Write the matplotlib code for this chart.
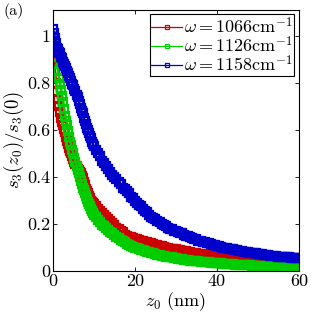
import numpy as np
import matplotlib
matplotlib.use("Agg")
import matplotlib.pyplot as plt

plt.rcParams['font.family'] = 'serif'
plt.rcParams['font.serif'] = ['cmr10', 'DejaVu Serif']
plt.rcParams['mathtext.fontset'] = 'cm'
plt.rcParams['axes.formatter.use_mathtext'] = True

# sampling positions z0 (nm)
z0 = np.concatenate([np.arange(0, 10.001, 0.25), np.arange(10.5, 60.001, 0.5)])

s_1066 = [
    0.95, 0.90, 0.85, 0.80, 0.76, 0.73, 0.70, 0.675, 0.65, 0.635,
    0.62, 0.605, 0.59, 0.57, 0.555, 0.54, 0.525, 0.51, 0.50, 0.49,
    0.475, 0.465, 0.455, 0.445, 0.435, 0.43, 0.42, 0.415, 0.405, 0.395,
    0.38, 0.365, 0.35, 0.34, 0.33, 0.32, 0.31, 0.30, 0.295, 0.29,
    0.285,
    0.275, 0.265, 0.255, 0.245, 0.24, 0.23, 0.22, 0.215, 0.205, 0.195,
    0.185, 0.18, 0.17, 0.165, 0.155, 0.15, 0.147, 0.143, 0.14, 0.138,
    0.135, 0.132, 0.13, 0.128, 0.125, 0.122, 0.12, 0.118, 0.115, 0.112,
    0.11, 0.108, 0.105, 0.103, 0.10, 0.098, 0.096, 0.095, 0.093, 0.092,
    0.09, 0.089, 0.087, 0.086, 0.084, 0.082, 0.08, 0.079, 0.077, 0.075,
    0.074, 0.072, 0.071, 0.07, 0.068, 0.067, 0.066, 0.064, 0.063, 0.062,
    0.061, 0.06, 0.059, 0.058, 0.057, 0.056, 0.055, 0.055, 0.054, 0.053,
    0.052, 0.051, 0.05, 0.049, 0.048, 0.047, 0.047, 0.046, 0.045, 0.045,
    0.044, 0.043, 0.043, 0.042, 0.041, 0.041, 0.04, 0.04, 0.039, 0.039,
    0.038, 0.038, 0.037, 0.037, 0.036, 0.036, 0.035, 0.035, 0.034, 0.034,
]

s_1126 = [
    1.0, 0.97, 0.95, 0.91, 0.88, 0.85, 0.82, 0.795, 0.77, 0.745,
    0.72, 0.69, 0.66, 0.64, 0.62, 0.595, 0.57, 0.55, 0.535, 0.515,
    0.50, 0.48, 0.465, 0.445, 0.43, 0.415, 0.40, 0.385, 0.37, 0.355,
    0.345, 0.33, 0.32, 0.305, 0.295, 0.285, 0.275, 0.265, 0.255, 0.245,
    0.24,
    0.228, 0.217, 0.208, 0.198, 0.19, 0.182, 0.175, 0.168, 0.16, 0.153,
    0.146, 0.14, 0.134, 0.128, 0.122, 0.117, 0.112, 0.108, 0.104, 0.10,
    0.097, 0.094, 0.091, 0.088, 0.085, 0.082, 0.08, 0.077, 0.075, 0.072,
    0.07, 0.068, 0.066, 0.064, 0.062, 0.061, 0.059, 0.058, 0.056, 0.055,
    0.053, 0.052, 0.05, 0.049, 0.048, 0.046, 0.045, 0.044, 0.043, 0.042,
    0.041, 0.04, 0.039, 0.038, 0.038, 0.037, 0.036, 0.035, 0.035, 0.034,
    0.033, 0.033, 0.032, 0.031, 0.031, 0.03, 0.03, 0.029, 0.028, 0.028,
    0.027, 0.027, 0.026, 0.026, 0.025, 0.025, 0.024, 0.024, 0.023, 0.023,
    0.022, 0.022, 0.021, 0.021, 0.02, 0.02, 0.02, 0.019, 0.019, 0.018,
    0.018, 0.018, 0.017, 0.017, 0.017, 0.016, 0.016, 0.016, 0.015, 0.015,
]

s_1158 = [
    1.03, 1.01, 0.99, 0.97, 0.95, 0.945, 0.93, 0.925, 0.91, 0.905,
    0.89, 0.88, 0.87, 0.865, 0.85, 0.84, 0.83, 0.82, 0.81, 0.795,
    0.79, 0.775, 0.765, 0.75, 0.74, 0.725, 0.71, 0.695, 0.68, 0.67,
    0.65, 0.64, 0.625, 0.61, 0.60, 0.585, 0.575, 0.565, 0.55, 0.54,
    0.53,
    0.515, 0.50, 0.49, 0.47, 0.46, 0.445, 0.435, 0.42, 0.41, 0.40,
    0.39, 0.38, 0.37, 0.355, 0.35, 0.34, 0.33, 0.315, 0.31, 0.30,
    0.29, 0.28, 0.275, 0.265, 0.255, 0.25, 0.24, 0.23, 0.225, 0.22,
    0.215, 0.21, 0.20, 0.195, 0.19, 0.185, 0.18, 0.178, 0.172, 0.17,
    0.165, 0.16, 0.16, 0.155, 0.15, 0.148, 0.145, 0.14, 0.138, 0.135,
    0.13, 0.128, 0.125, 0.122, 0.118, 0.118, 0.115, 0.112, 0.11, 0.108,
    0.105, 0.104, 0.10, 0.10, 0.097, 0.095, 0.093, 0.092, 0.09, 0.088,
    0.087, 0.085, 0.083, 0.082, 0.08, 0.079, 0.078, 0.076, 0.075, 0.074,
    0.072, 0.071, 0.07, 0.068, 0.068, 0.066, 0.066, 0.064, 0.063, 0.062,
    0.061, 0.06, 0.06, 0.058, 0.058, 0.057, 0.056, 0.055, 0.054, 0.055,
]

labels = [r'$\omega = 1066\mathrm{cm}^{-1}$',
          r'$\omega = 1126\mathrm{cm}^{-1}$',
          r'$\omega = 1158\mathrm{cm}^{-1}$']
colors = ['#cc0000', '#00cc00', '#0000cc']
series = [s_1066, s_1126, s_1158]

fig = plt.figure(figsize=(3.19, 3.19), dpi=100)
ax = fig.add_axes([0.166, 0.150, 0.771, 0.819])

for s, c, lab in zip(series, colors, labels):
    ax.plot(z0, s, color=c, lw=1.8, marker='s', ms=5.2, mfc='none',
            mec=c, mew=1.6, label=lab)

ax.set_xlim(0, 60)
ax.set_ylim(0, 1.11)
ax.set_xticks([0, 20, 40, 60])
ax.set_xticklabels(['0', '20', '40', '60'])
ax.set_yticks([0, 0.2, 0.4, 0.6, 0.8, 1.0])
ax.set_yticklabels(['0', '0.2', '0.4', '0.6', '0.8', '1'])
ax.tick_params(direction='in', top=True, right=True, length=3, width=0.6,
               labelsize=13, pad=2)
for sp in ax.spines.values():
    sp.set_linewidth(0.8)

ax.set_xlabel(r'$z_0$ (nm)', fontsize=13, labelpad=1)
ax.set_ylabel(r'$s_3(z_0)/s_3(0)$', fontsize=13.5, labelpad=1)

leg = ax.legend(loc='upper right', fontsize=13, fancybox=False,
                edgecolor='black', framealpha=1, borderpad=0.1,
                handlelength=1.7, handletextpad=0.1, labelspacing=-0.1,
                borderaxespad=0.25, markerscale=0.55)
leg.get_frame().set_linewidth(0.8)
for h in leg.get_lines():
    h.set_linewidth(0.9)
    h.set_markeredgewidth(0.9)

fig.text(0.01, 0.99, '(a)', fontsize=11.5, va='top', ha='left')

fig.savefig('out.png', dpi=100)
